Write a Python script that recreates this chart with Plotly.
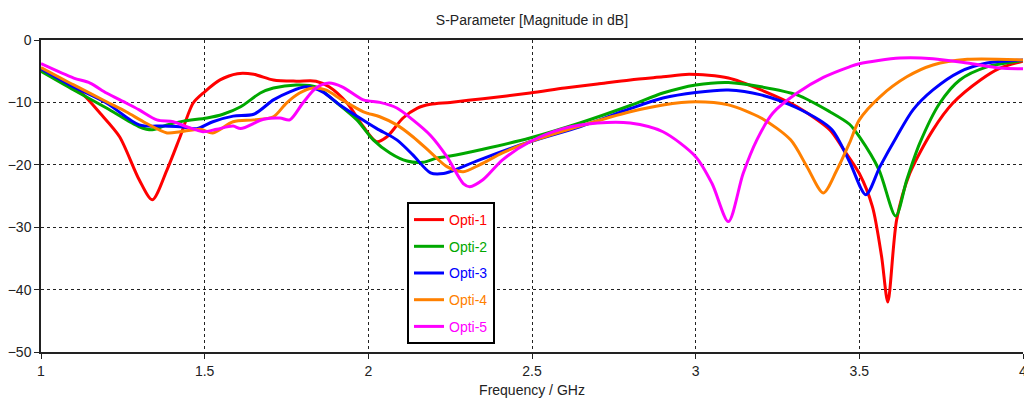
import plotly.graph_objects as go

# ---- data ----
f_opti1 = [1.0, 1.05, 1.1, 1.13, 1.18, 1.24, 1.30, 1.34, 1.385, 1.425, 1.465, 1.5, 1.547, 1.6, 1.65,
           1.71, 1.78, 1.84, 1.88, 1.935, 1.985, 2.025, 2.057, 2.106, 2.15, 2.19, 2.25, 2.35, 2.494,
           2.6, 2.7, 2.8, 2.9, 2.98, 3.1, 3.2, 3.31, 3.41, 3.45, 3.5, 3.54, 3.568, 3.587, 3.614,
           3.654, 3.725, 3.786, 3.87, 3.93, 4.0]
s_opti1 = [-4.8, -6.2, -7.7, -8.8, -11.7, -15.5, -22.4, -25.6, -20.8, -15.5, -10.1, -8.3, -6.4, -5.4, -5.5,
           -6.4, -6.6, -6.6, -7.5, -10.1, -13.9, -16.3, -15.5, -12.5, -10.9, -10.3, -10.0, -9.4, -8.5,
           -7.7, -7.05, -6.4, -5.9, -5.5, -6.1, -8.0, -10.7, -14.4, -17.4, -21.4, -26.7, -34.7, -42.0, -28.8,
           -21.4, -14.4, -10.1, -6.4, -4.5, -3.4]

f_opti2 = [1.0, 1.1, 1.2, 1.3, 1.34, 1.385, 1.435, 1.507, 1.556, 1.61, 1.67, 1.71, 1.78, 1.84, 1.90,
           1.965, 2.015, 2.066, 2.118, 2.167, 2.21, 2.25, 2.35, 2.494, 2.646, 2.8, 2.9, 3.0, 3.1, 3.2,
           3.31, 3.41, 3.47, 3.5, 3.56, 3.611, 3.645, 3.685, 3.746, 3.807, 3.89, 4.0]
s_opti2 = [-5.0, -8.0, -10.9, -13.9, -14.4, -13.6, -13.0, -12.5, -11.9, -10.7, -8.5, -7.7, -7.2, -7.5, -9.9,
           -12.8, -16.0, -18.1, -19.4, -19.6, -18.9, -18.6, -17.5, -15.7, -13.3, -10.5, -8.5, -7.2, -6.8, -7.5,
           -8.8, -11.5, -13.5, -15.5, -20.8, -28.2, -22.4, -16.5, -10.1, -6.4, -4.3, -3.3]

f_opti3 = [1.0, 1.1, 1.2, 1.3, 1.37, 1.425, 1.476, 1.525, 1.587, 1.65, 1.71, 1.76, 1.81, 1.86, 1.913,
           1.974, 2.026, 2.087, 2.136, 2.19, 2.23, 2.25, 2.34, 2.494, 2.646, 2.8, 2.9, 3.0, 3.1, 3.2,
           3.31, 3.415, 3.47, 3.52, 3.563, 3.614, 3.664, 3.725, 3.807, 3.89, 4.0]
s_opti3 = [-4.6, -7.5, -10.1, -13.6, -13.8, -13.9, -14.2, -13.1, -12.2, -11.9, -9.6, -8.3, -7.5, -8.3, -10.4,
           -12.5, -14.2, -16.0, -18.4, -21.3, -21.4, -21.1, -19.2, -16.3, -13.9, -11.0, -9.3, -8.4, -8.0, -8.8,
           -10.9, -14.3, -19.5, -24.8, -20.3, -15.5, -11.2, -8.0, -5.1, -3.7, -3.2]

f_opti4 = [1.0, 1.1, 1.2, 1.26, 1.32, 1.385, 1.425, 1.486, 1.525, 1.587, 1.65, 1.71, 1.75, 1.79, 1.83,
           1.87, 1.92, 1.985, 2.035, 2.087, 2.136, 2.19, 2.24, 2.29, 2.34, 2.41, 2.494, 2.646, 2.8, 2.9,
           3.0, 3.1, 3.2, 3.29, 3.34, 3.39, 3.43, 3.47, 3.5, 3.563, 3.645, 3.725, 3.83, 4.0]
s_opti4 = [-4.4, -7.2, -9.9, -11.5, -13.3, -14.9, -14.7, -14.3, -14.9, -13.1, -12.8, -12.3, -10.1, -8.5, -7.7,
           -8.0, -9.6, -11.5, -12.3, -13.6, -15.5, -18.0, -20.3, -21.1, -20.0, -18.1, -16.3, -13.8, -11.5, -10.4,
           -9.9, -10.4, -12.5, -16.0, -20.3, -24.5, -21.0, -16.5, -12.8, -9.1, -5.9, -4.0, -3.1, -3.2]

f_opti5 = [1.0, 1.1, 1.15, 1.2, 1.26, 1.30, 1.354, 1.404, 1.445, 1.495, 1.537, 1.587, 1.61, 1.68, 1.73,
           1.76, 1.80, 1.84, 1.88, 1.92, 1.985, 2.035, 2.087, 2.136, 2.19, 2.24, 2.29, 2.31, 2.35, 2.41,
           2.494, 2.595, 2.7, 2.8, 2.9, 3.0, 3.05, 3.10, 3.145, 3.187, 3.236, 3.31, 3.39, 3.47, 3.5,
           3.624, 3.725, 3.83, 3.93, 4.0]
s_opti5 = [-3.8, -6.1, -6.9, -8.5, -10.1, -11.2, -12.8, -13.1, -13.9, -14.7, -14.3, -13.8, -14.2, -12.7, -12.5,
           -12.8, -10.1, -7.7, -6.9, -7.5, -9.6, -10.0, -10.9, -12.8, -15.3, -18.7, -23.0, -23.5, -22.4, -19.2,
           -16.3, -14.2, -13.3, -13.3, -14.7, -18.7, -23.0, -29.1, -21.4, -16.0, -11.7, -8.5, -6.0, -4.3, -3.8,
           -2.9, -3.0, -3.7, -4.5, -4.6]

names = ["Opti-1", "Opti-2", "Opti-3", "Opti-4", "Opti-5"]
colors = ["#ff0000", "#00a800", "#0000ff", "#ff8000", "#ff00ff"]
freqs = [f_opti1, f_opti2, f_opti3, f_opti4, f_opti5]
series = [s_opti1, s_opti2, s_opti3, s_opti4, s_opti5]

x_ticks = [1, 1.5, 2, 2.5, 3, 3.5, 4]
x_tick_text = ["1", "1.5", "2", "2.5", "3", "3.5", "4"]
y_ticks = [0, -10, -20, -30, -40, -50]

FONT = "Liberation Sans"

fig = go.Figure()
for n, c, fx, sy in zip(names, colors, freqs, series):
    fig.add_trace(go.Scatter(
        x=fx, y=sy, mode="lines", name=f"<span style='color:{c}'>{n}</span>",
        legendgroup=n,
        line=dict(color=c, width=3, shape="spline", smoothing=0.8),
    ))

fig.update_layout(
    width=1024, height=412,
    margin=dict(l=41, r=1, t=40, b=60),
    paper_bgcolor="white", plot_bgcolor="white",
    title=dict(text="S-Parameter [Magnitude in dB]", x=0.5195, xanchor="center",
               y=1 - 20 / 412, yanchor="middle",
               font=dict(family=FONT, size=14, color="#222")),
    font=dict(family=FONT, size=14, color="#222"),
    showlegend=True,
    legend=dict(
        x=(407 - 41) / 982, y=(352 - 202) / 312, xanchor="left", yanchor="top",
        bgcolor="white", bordercolor="black", borderwidth=2,
        font=dict(family=FONT, size=14),
        traceorder="grouped", tracegroupgap=5.5,
        itemwidth=30,
    ),
)
fig.update_xaxes(
    range=[1, 4], tickvals=x_ticks, ticktext=x_tick_text,
    showline=True, linecolor="#222", linewidth=1.5, mirror=True,
    ticks="outside", ticklen=5, tickcolor="#222",
    showgrid=True, gridcolor="#222", gridwidth=1, griddash="dot",
    zeroline=False, ticklabeloverflow="allow", automargin=False,
    tickfont=dict(family=FONT, size=14, color="#222"),
    title=dict(text="Frequency / GHz", font=dict(family=FONT, size=14, color="#222"), standoff=8),
)
fig.update_yaxes(
    range=[-50, 0], tickvals=y_ticks,
    showline=True, linecolor="#222", linewidth=1.5,
    ticks="outside", ticklen=5, tickcolor="#222",
    showgrid=True, gridcolor="#222", gridwidth=1, griddash="dot",
    zeroline=False, automargin=False,
    tickfont=dict(family=FONT, size=14, color="#222"),
)

fig.write_html("out.html")
